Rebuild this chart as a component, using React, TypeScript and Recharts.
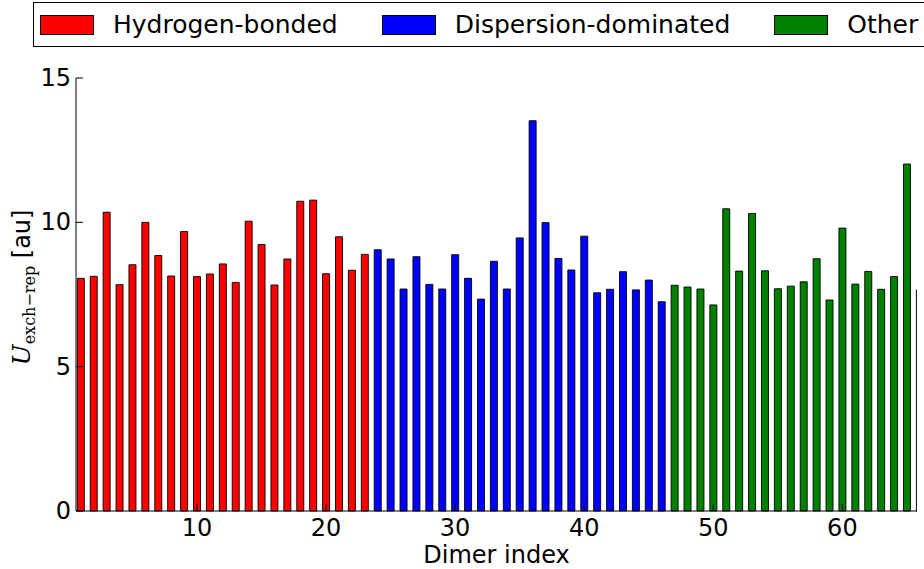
import React from 'react';
import { BarChart, Bar, XAxis, YAxis, Cell } from 'recharts';

// S66 dimer groups
const groups = ['Hydrogen-bonded', 'Dispersion-dominated', 'Other'];
const groupColors = ['#ff0000', '#0000ff', '#008000'];

const hydrogenBonded = [
  8.06, 8.13, 10.35, 7.84, 8.53, 10.0, 8.85, 8.14, 9.68, 8.12, 8.21, 8.56,
  7.92, 10.04, 9.23, 7.83, 8.73, 10.73, 10.77, 8.22, 9.5, 8.34, 8.89,
];
const dispersionDominated = [
  9.05, 8.73, 7.69, 8.81, 7.85, 7.69, 8.88, 8.06, 7.34, 8.65, 7.69, 9.46,
  13.52, 9.99, 8.75, 8.35, 9.52, 7.56, 7.68, 8.29, 7.66, 8.0, 7.25,
];
const other = [
  7.82, 7.76, 7.69, 7.14, 10.47, 8.31, 10.31, 8.32, 7.7, 7.79, 7.94, 8.74,
  7.31, 9.8, 7.86, 8.3, 7.68, 8.12, 12.02, 7.66,
];

const xTicks = [10, 20, 30, 40, 50, 60];
const yTicks = [0, 5, 10, 15];

const data = [hydrogenBonded, dispersionDominated, other]
  .flatMap((values, g) => values.map((value) => ({ value, group: g })))
  .map((d, i) => ({ index: i + 1, ...d }));

const FONT = 'DejaVu Sans';
const TICK_LEN = 7;

const LeftTick = ({ x, y, payload }: any) => (
  <g>
    <line x1={x} x2={x + TICK_LEN} y1={y} y2={y} stroke="#000" />
    <text x={x - 5} y={y} dy={8} textAnchor="end" fontSize={24} fontFamily={FONT} fill="#000">
      {payload.value}
    </text>
  </g>
);

const RightTick = ({ x, y }: any) => (
  <line x1={x} x2={x - TICK_LEN} y1={y} y2={y} stroke="#000" />
);

const BottomTick = ({ x, y, payload }: any) => (
  <g>
    <line x1={x} x2={x} y1={y} y2={y - TICK_LEN} stroke="#000" />
    <text x={x} y={y + 25} textAnchor="middle" fontSize={24} fontFamily={FONT} fill="#000">
      {payload.value}
    </text>
  </g>
);

const TopTick = ({ x, y }: any) => (
  <line x1={x} x2={x} y1={y} y2={y + TICK_LEN} stroke="#000" />
);

const YLabel = ({ viewBox }: any) => {
  const cy = viewBox.y + viewBox.height / 2 - 7;
  return (
    <text transform={`translate(30, ${cy}) rotate(-90)`} textAnchor="middle" fill="#000">
      <tspan fontFamily="DejaVu Serif" fontStyle="italic" fontSize={25}>U</tspan>
      <tspan fontFamily="DejaVu Serif" fontSize={16} dy={5}>exch−rep</tspan>
      <tspan fontFamily={FONT} fontSize={24} dy={-5}> [au]</tspan>
    </text>
  );
};

const XLabel = ({ viewBox }: any) => (
  <text x={viewBox.x + viewBox.width / 2} y={563} textAnchor="middle" fontSize={24} fontFamily={FONT} fill="#000">
    Dimer index
  </text>
);

const LegendBox = () => (
  <div
    style={{
      position: 'absolute',
      left: 33,
      top: 2,
      width: 1000,
      height: 45,
      border: '1px solid #000',
      display: 'flex',
      alignItems: 'center',
      fontFamily: FONT,
      fontSize: 25,
      paddingLeft: 6,
      boxSizing: 'border-box',
      whiteSpace: 'nowrap',
    }}
  >
    {groups.map((name, i) => (
      <div key={name} style={{ display: 'flex', alignItems: 'center', marginRight: 44 }}>
        <span
          style={{
            display: 'inline-block',
            width: 52,
            height: 18,
            background: groupColors[i],
            border: '1px solid #000',
            marginRight: 19,
          }}
        />
        <span>{name}</span>
      </div>
    ))}
  </div>
);

export default function App() {
  return (
    <div style={{ position: 'absolute', left: 0, top: 0, width: 924, height: 569, overflow: 'hidden', background: '#fff' }}>
      <LegendBox />
      <BarChart width={924} height={569} data={data} margin={{ top: 78, right: 7, bottom: 18, left: 26 }}>
        <XAxis
          dataKey="index"
          type="number"
          domain={[0.63, 65.78]}
          allowDataOverflow
          ticks={xTicks}
          interval={0}
          height={40}
          tickSize={0}
          tickMargin={0}
          tickLine={false}
          tick={<BottomTick />}
          axisLine={{ stroke: '#000' }}
          label={<XLabel />}
        />
        <XAxis
          xAxisId="top"
          orientation="top"
          type="number"
          domain={[0.63, 65.78]}
          allowDataOverflow
          ticks={xTicks}
          interval={0}
          height={0}
          tickSize={0}
          tickMargin={0}
          tickLine={false}
          tick={<TopTick />}
          axisLine={{ stroke: '#000' }}
        />
        <YAxis
          type="number"
          domain={[0, 15]}
          ticks={yTicks}
          interval={0}
          width={50}
          tickSize={0}
          tickMargin={0}
          tickLine={false}
          tick={<LeftTick />}
          axisLine={{ stroke: '#000' }}
          label={<YLabel />}
        />
        <YAxis
          yAxisId="right"
          orientation="right"
          type="number"
          domain={[0, 15]}
          allowDataOverflow
          ticks={yTicks}
          interval={0}
          width={0}
          tickSize={0}
          tickMargin={0}
          tickLine={false}
          tick={<RightTick />}
          axisLine={{ stroke: '#000' }}
        />
        <Bar dataKey="value" barSize={7} stroke="#000" strokeWidth={0.9} isAnimationActive={false}>
          {data.map((d) => (
            <Cell key={d.index} fill={groupColors[d.group]} />
          ))}
        </Bar>
      </BarChart>
    </div>
  );
}
